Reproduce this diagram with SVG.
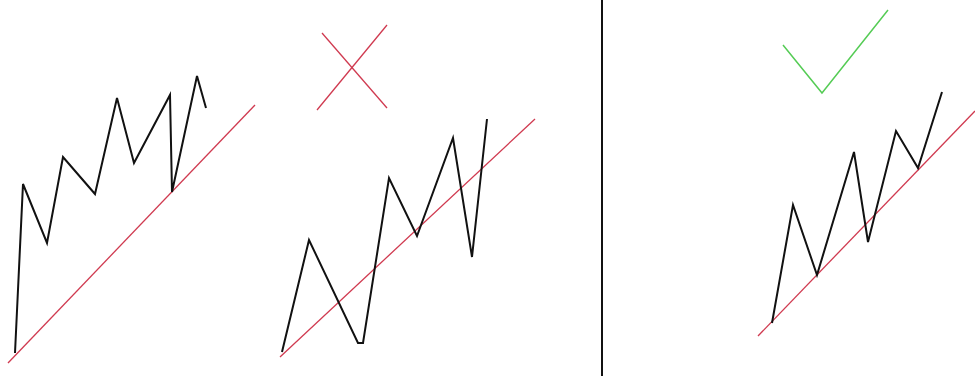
<svg xmlns="http://www.w3.org/2000/svg" width="975" height="376" viewBox="0 0 975 376">
<style>
.k{fill:none;stroke:#111;stroke-width:2;stroke-linejoin:miter}
.r{fill:none;stroke:#d03a50;stroke-width:1.3}
.g{fill:none;stroke:#55cc55;stroke-width:1.5}
</style>
<rect width="975" height="376" fill="#fff"/>
<line x1="602" y1="0" x2="602" y2="376" stroke="#111" stroke-width="2"/>
<g id="left">
<line class="r" x1="8" y1="363" x2="255" y2="105"/>
<polyline class="k" points="15,353 23,184 47,243 63,157 95,194 117,98 134,163 170,95 172,192 197,76 206,108"/>
</g>
<g id="middle">
<line class="r" x1="322" y1="33" x2="387" y2="108"/>
<line class="r" x1="387" y1="25" x2="317" y2="110"/>
<line class="r" x1="280" y1="357" x2="535" y2="119"/>
<polyline class="k" points="282,352 309,240 358,343 363,343 389,178 417,236 453,138 472,257 487,119"/>
</g>
<g id="right">
<polyline class="g" points="783,45 822,93 888,10"/>
<line class="r" x1="758" y1="336" x2="975" y2="111"/>
<polyline class="k" points="772,323 793,205 817,275 854,152 868,242 896,131 918,168 942,92"/>
</g>
</svg>
